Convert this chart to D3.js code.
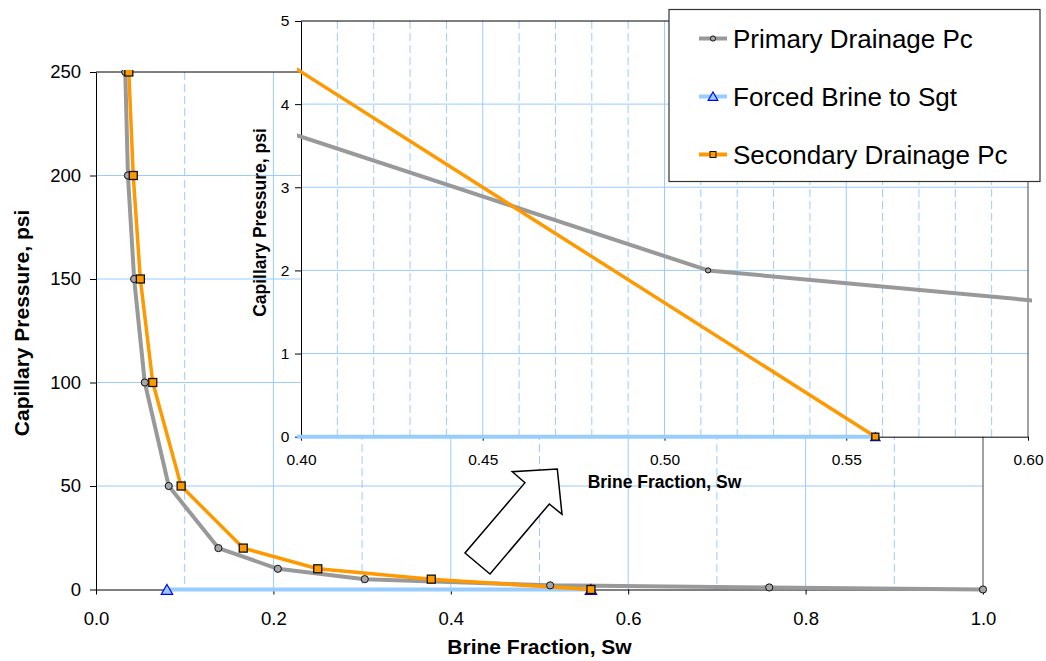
<!DOCTYPE html>
<html>
<head>
<meta charset="utf-8">
<script src="https://cdn.jsdelivr.net/npm/d3@7"></script>
<style>
  html, body { margin: 0; padding: 0; background: #fff; }
  svg { display: block; font-family: "Liberation Sans", Arial, sans-serif; }
</style>
</head>
<body>
<svg width="1046" height="661"></svg>
<script>
// values
const primarySw = [0.033, 0.036, 0.043, 0.055, 0.082, 0.138, 0.205, 0.303, 0.512, 0.759, 1.0];
const primaryPc = [250, 200, 150, 100, 50, 20, 10, 5, 2, 1, 0];
const forcedSw = [0.080, 0.558];
const forcedPc = [0, 0];
const secondarySw = [0.037, 0.042, 0.050, 0.064, 0.096, 0.166, 0.250, 0.378, 0.558];
const secondaryPc = [250, 200, 150, 100, 50, 20, 10, 5, 0];

const mainXTicks = [0, 0.2, 0.4, 0.6, 0.8, 1.0];
const mainXMinor = [0.1, 0.3, 0.5, 0.7, 0.9];
const mainYTicks = [0, 50, 100, 150, 200, 250];
const insetXTicks = [0.40, 0.45, 0.50, 0.55, 0.60];
const insetXMinor = [0.41, 0.42, 0.43, 0.44, 0.46, 0.47, 0.48, 0.49, 0.51, 0.52, 0.53, 0.54, 0.56, 0.57, 0.58, 0.59];
const insetYTicks = [0, 1, 2, 3, 4, 5];

const seriesNames = ['Primary Drainage Pc', 'Forced Brine to Sgt', 'Secondary Drainage Pc'];

const GRAY = '#999999', ORANGE = '#ff9900', LBLUE = '#99ccff', GRID = '#99ccff';

const svg = d3.select('svg');
const zip = (xs, ys) => xs.map((x, i) => [x, ys[i]]);
const primary = zip(primarySw, primaryPc);
const forced = zip(forcedSw, forcedPc);
const secondary = zip(secondarySw, secondaryPc);

// plot one panel (main chart or the zoomed inset)
function panel(g, o) {
  const x = d3.scaleLinear().domain(o.xDomain).range([o.left, o.right]);
  const y = d3.scaleLinear().domain(o.yDomain).range([o.bottom, o.top]);

  if (o.fill) {
    g.append('rect').attr('x', o.left).attr('y', o.top)
      .attr('width', o.right - o.left).attr('height', o.bottom - o.top).attr('fill', '#fff');
  }

  // grid
  g.selectAll(null).data(o.xMinor).join('line')
    .attr('x1', d => x(d)).attr('x2', d => x(d)).attr('y1', o.top).attr('y2', o.bottom)
    .attr('stroke', GRID).attr('stroke-dasharray', '8,4');
  g.selectAll(null).data(o.xTicks.slice(1, -1)).join('line')
    .attr('x1', d => x(d)).attr('x2', d => x(d)).attr('y1', o.top).attr('y2', o.bottom)
    .attr('stroke', GRID);
  g.selectAll(null).data(o.yTicks.slice(1, -1)).join('line')
    .attr('x1', o.left).attr('x2', o.right).attr('y1', d => y(d)).attr('y2', d => y(d))
    .attr('stroke', GRID);

  // top / right borders
  g.append('line').attr('x1', o.left).attr('x2', o.right).attr('y1', o.top).attr('y2', o.top)
    .attr('stroke', '#000');
  g.append('line').attr('x1', o.right).attr('x2', o.right).attr('y1', o.top).attr('y2', o.bottom)
    .attr('stroke', '#444');

  // axes
  const xa = g.append('g').attr('transform', `translate(0,${o.bottom})`)
    .call(d3.axisBottom(x).tickValues(o.xTicks).tickFormat(d3.format(o.xFmt))
      .tickSizeInner(o.xTick).tickSizeOuter(0).tickPadding(o.xPad));
  const ya = g.append('g').attr('transform', `translate(${o.left},0)`)
    .call(d3.axisLeft(y).tickValues(o.yTicks).tickFormat(d3.format('d'))
      .tickSizeInner(6).tickSizeOuter(0).tickPadding(o.yPad));
  [xa, ya].forEach(a => {
    a.select('.domain').attr('stroke', '#000');
    a.selectAll('.tick line').attr('stroke', '#000');
    a.selectAll('text').attr('font-size', o.tickFont).attr('fill', '#000')
      .attr('font-family', '"Liberation Sans", Arial, sans-serif');
  });

  // series
  const clipId = 'clip' + o.id;
  g.append('clipPath').attr('id', clipId).append('rect')
    .attr('x', o.left - 4).attr('y', o.top - 2)
    .attr('width', o.right - o.left + 8).attr('height', o.bottom - o.top + 8);
  const s = g.append('g').attr('clip-path', `url(#${clipId})`);
  const line = d3.line().x(d => x(d[0])).y(d => y(d[1]));

  s.append('path').datum(primary).attr('d', line).attr('fill', 'none')
    .attr('stroke', GRAY).attr('stroke-width', 4).attr('stroke-linejoin', 'round');
  s.append('path').datum(forced).attr('d', line).attr('fill', 'none')
    .attr('stroke', LBLUE).attr('stroke-width', 4);
  s.append('path').datum(secondary).attr('d', line).attr('fill', 'none')
    .attr('stroke', ORANGE).attr('stroke-width', 3.5).attr('stroke-linejoin', 'round');

  const inX = d => d[0] >= o.xDomain[0] && d[0] <= o.xDomain[1] && d[1] <= o.yDomain[1];
  const cr = o.markR, sq = o.markSq;
  s.selectAll(null).data(primary.filter(inX)).join('circle')
    .attr('cx', d => x(d[0])).attr('cy', d => y(d[1])).attr('r', cr)
    .attr('fill', '#a6a6a6').attr('stroke', '#111').attr('stroke-width', 1);
  const tri = d3.symbol().type(d3.symbolTriangle).size(o.triSize);
  const triH = Math.sqrt(o.triSize * 4 / Math.sqrt(3)) * Math.sqrt(3) / 2;
  s.selectAll(null).data(forced.filter(inX)).join('path')
    .attr('d', tri).attr('transform', d => `translate(${x(d[0])},${y(d[1]) + triH / 6})`)
    .attr('fill', LBLUE).attr('stroke', '#0000ff').attr('stroke-width', 1.2);
  s.selectAll(null).data(secondary.filter(inX)).join('rect')
    .attr('x', d => x(d[0]) - sq / 2).attr('y', d => y(d[1]) - sq / 2)
    .attr('width', sq).attr('height', sq)
    .attr('fill', ORANGE).attr('stroke', '#111').attr('stroke-width', 1.3);

  // axis titles
  g.append('text').attr('x', (o.left + o.right) / 2).attr('y', o.xTitleY)
    .attr('text-anchor', 'middle').attr('font-weight', 'bold').attr('font-size', o.titleFont)
    .text('Brine Fraction, Sw');
  g.append('text').attr('transform', `translate(${o.yTitleX},${o.yTitleC}) rotate(-90)`)
    .attr('text-anchor', 'middle').attr('font-weight', 'bold').attr('font-size', o.titleFont)
    .text('Capillary Pressure, psi');
}

const mainG = svg.append('g');
panel(mainG, {
  id: 'main', left: 96, right: 983, top: 72, bottom: 589.5,
  xDomain: [0, 1], yDomain: [0, 250],
  xTicks: mainXTicks, xMinor: mainXMinor, yTicks: mainYTicks, xFmt: '.1f',
  xTick: 5, xPad: 17.5, yPad: 9, tickFont: 18.5,
  markR: 3.6, markSq: 8, triSize: 57,
  titleFont: 21, xTitleY: 654, yTitleX: 29, yTitleC: 323
});

// zoom arrow
const arrowPts = [[525, 482.7], [512.3, 471.7], [557.3, 469], [562, 514.3], [549.3, 504], [490, 574], [465, 553]];
svg.append('polygon').attr('points', arrowPts.map(p => p.join(',')).join(' '))
  .attr('fill', '#fff').attr('stroke', '#000').attr('stroke-width', 1.5);

const insetG = svg.append('g');
panel(insetG, {
  id: 'inset', left: 301, right: 1028, top: 21, bottom: 436.7, fill: true,
  xDomain: [0.4, 0.6], yDomain: [0, 5],
  xTicks: insetXTicks, xMinor: insetXMinor, yTicks: insetYTicks, xFmt: '.2f',
  xTick: 4, xPad: 13.3, yPad: 5.7, tickFont: 15.5,
  markR: 2.6, markSq: 7, triSize: 38,
  titleFont: 17.5, xTitleY: 488.3, yTitleX: 266, yTitleC: 222.5
});

// legend
const lg = svg.append('g');
lg.append('rect').attr('x', 669).attr('y', 9.5).attr('width', 371).attr('height', 172)
  .attr('fill', '#fff').attr('stroke', '#333').attr('stroke-width', 1.2);
const legendRows = lg.selectAll(null).data(seriesNames).join('g')
  .attr('transform', (d, i) => `translate(0,${38.5 + i * 58})`);
legendRows.append('line').attr('x1', 699).attr('x2', 727).attr('y1', 0).attr('y2', 0)
  .attr('stroke', (d, i) => [GRAY, LBLUE, ORANGE][i]).attr('stroke-width', 4);
legendRows.filter((d, i) => i === 0).append('circle').attr('cx', 713).attr('cy', 0).attr('r', 2.6)
  .attr('fill', '#a6a6a6').attr('stroke', '#111');
legendRows.filter((d, i) => i === 1).append('path')
  .attr('d', d3.symbol().type(d3.symbolTriangle).size(40)).attr('transform', 'translate(713,1)')
  .attr('fill', LBLUE).attr('stroke', '#0000ff').attr('stroke-width', 1.2);
legendRows.filter((d, i) => i === 2).append('rect').attr('x', 710).attr('y', -3).attr('width', 6).attr('height', 6)
  .attr('fill', ORANGE).attr('stroke', '#111');
legendRows.append('text').attr('x', 733).attr('y', 9.2).attr('font-size', 26).attr('fill', '#000')
  .text(d => d);
</script>
</body>
</html>
